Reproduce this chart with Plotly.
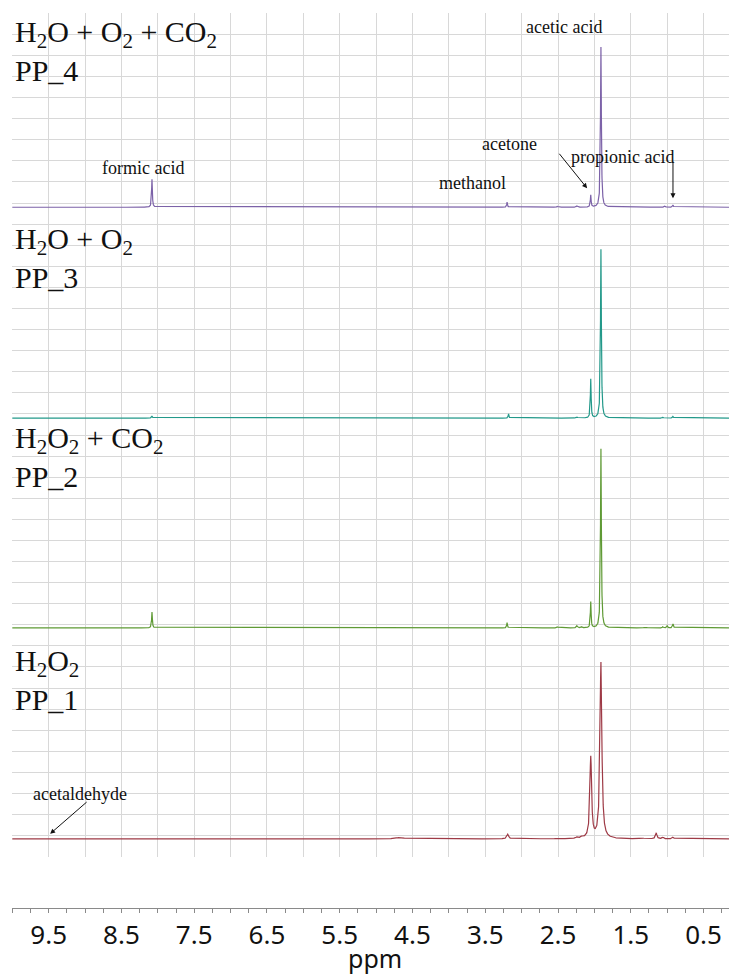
import numpy as np
import plotly.graph_objects as go

# ---------------- data ----------------
# chemical shift grid limits of the plot (ppm)
ppm_left, ppm_right = 10.0, 0.15

# tick labels on the ppm axis
tick_values = [9.5, 8.5, 7.5, 6.5, 5.5, 4.5, 3.5, 2.5, 1.5, 0.5]
tick_labels = ["9.5", "8.5", "7.5", "6.5", "5.5", "4.5", "3.5", "2.5", "1.5", "0.5"]

# sample names (bottom -> top)
samples = ["PP_1", "PP_2", "PP_3", "PP_4"]
conditions = ["H<sub>2</sub>O<sub>2</sub>",
              "H<sub>2</sub>O<sub>2</sub> + CO<sub>2</sub>",
              "H<sub>2</sub>O + O<sub>2</sub>",
              "H<sub>2</sub>O + O<sub>2</sub> + CO<sub>2</sub>"]
baselines = [0.85, 10.85, 20.8, 30.8]          # stacking offset (grid rows)
colors = ["#9e3a46", "#5f9a35", "#23998a", "#7c62a8"]

# peak lists: position (ppm), height (grid rows), half-width (ppm)
pp1_pos = [9.49, 4.67, 3.19, 2.51, 2.24, 2.17, 2.05, 1.91, 1.35, 1.15, 1.06, 0.92]
pp1_hgt = [0.03, 0.07, 0.22, 0.04, 0.06, 0.07, 3.84, 8.35, 0.03, 0.28, 0.07, 0.08]
pp1_wid = [0.02, 0.06, 0.015, 0.015, 0.015, 0.015, 0.014, 0.015, 0.04, 0.012, 0.012, 0.012]

pp2_pos = [8.08, 3.20, 2.51, 2.24, 2.18, 2.05, 1.91, 1.30, 1.06, 1.00, 0.92]
pp2_hgt = [0.75, 0.25, 0.05, 0.10, 0.05, 1.23, 8.5, 0.03, 0.06, 0.10, 0.19]
pp2_wid = [0.006, 0.006, 0.008, 0.01, 0.008, 0.006, 0.007, 0.02, 0.008, 0.008, 0.008]

pp3_pos = [8.08, 3.18, 2.51, 2.24, 2.05, 1.91, 1.06, 0.92]
pp3_hgt = [0.10, 0.20, 0.03, 0.05, 1.85, 8.0, 0.05, 0.08]
pp3_wid = [0.008, 0.006, 0.008, 0.01, 0.006, 0.007, 0.008, 0.008]

pp4_pos = [8.08, 3.20, 2.51, 2.24, 2.05, 1.91, 1.03, 0.92]
pp4_hgt = [1.33, 0.24, 0.04, 0.06, 0.57, 7.6, 0.07, 0.10]
pp4_wid = [0.006, 0.006, 0.008, 0.01, 0.006, 0.007, 0.008, 0.008]

peak_lists = [(pp1_pos, pp1_hgt, pp1_wid), (pp2_pos, pp2_hgt, pp2_wid),
              (pp3_pos, pp3_hgt, pp3_wid), (pp4_pos, pp4_hgt, pp4_wid)]

# ---------------- figure ----------------
W, H = 729, 976
x = np.arange(ppm_right, ppm_left + 0.0005, 0.001)

fig = go.Figure()
for (pos, hgt, wid), base, col, name in zip(peak_lists, baselines, colors, samples):
    y = np.full_like(x, base)
    for p, h, g in zip(pos, hgt, wid):
        y = y + h * g ** 2 / ((x - p) ** 2 + g ** 2)
    fig.add_trace(go.Scatter(x=x, y=y, mode="lines", name=name,
                             line=dict(color=col, width=1.2),
                             hoverinfo="skip", showlegend=False))

# invisible trace carrying the bottom ppm axis
fig.add_trace(go.Scatter(x=[ppm_left, ppm_right], y=[None, None], xaxis="x2", yaxis="y",
                         mode="markers", marker=dict(opacity=0), showlegend=False,
                         hoverinfo="skip"))

x_dom = [12 / W, 1.0]
grid_col = "#d8d8d8"

fig.update_layout(
    width=W, height=H,
    margin=dict(l=0, r=0, t=0, b=0),
    paper_bgcolor="white", plot_bgcolor="white",
    xaxis=dict(domain=x_dom, range=[ppm_left + 0.004, ppm_right], showgrid=True,
               gridcolor=grid_col, gridwidth=1.4, tick0=0, dtick=0.5,
               showticklabels=False, ticks="", zeroline=False, showline=False),
    yaxis=dict(domain=[(H - 857) / H, (H - 13) / H], range=[-0.01, 40.01],
               showgrid=True, gridcolor=grid_col, gridwidth=1.4, tick0=0, dtick=1,
               showticklabels=False, ticks="", zeroline=False, showline=False),
    xaxis2=dict(domain=x_dom, range=[ppm_left + 0.004, ppm_right], overlaying="x",
                anchor="free", position=(H - 908) / H, side="bottom",
                showgrid=False, zeroline=False, showline=True, linecolor="#8a8a8a",
                linewidth=1, ticks="outside", ticklen=4, tickcolor="#8a8a8a",
                tickvals=tick_values, ticktext=tick_labels,
                minor=dict(ticks="outside", ticklen=4, dtick=0.25, tick0=0,
                           tickcolor="#8a8a8a", showgrid=False),
                ticklabelstandoff=0,
                tickfont=dict(family="Noto Sans", size=26, color="#111111")),
)

serif = "Liberation Serif"
annotations = []
# condition / sample labels (pixel placement in paper coords)
label_tops = [642, 419, 220, 13]
for cond, samp, top in zip(conditions, samples, label_tops):
    annotations.append(dict(text=cond + "<br>" + samp, xref="paper", yref="paper",
                            x=13 / W, y=1 - top / H, xanchor="left", yanchor="top",
                            align="left", showarrow=False,
                            font=dict(family=serif, size=30, color="#111111")))

# compound labels (data coordinates)
peak_names = ["formic acid", "acetic acid", "acetone", "propionic acid", "methanol", "acetaldehyde"]
name_x = [8.20, 2.42, 3.17, 1.61, 3.68, 9.07]
name_y = [32.65, 39.34, 33.79, 33.18, 31.94, 2.99]
for t, xx, yy in zip(peak_names, name_x, name_y):
    annotations.append(dict(text=t, xref="x", yref="y", x=xx, y=yy, showarrow=False,
                            font=dict(family=serif, size=18, color="#111111")))

# arrows (head in data coords, tail offset in pixels)
arrow_x = [2.10, 0.92, 9.48]
arrow_y = [31.7, 31.23, 1.09]
arrow_ax = [-29, 0, 38]
arrow_ay = [-36, -38, -33]
for xx, yy, a, b in zip(arrow_x, arrow_y, arrow_ax, arrow_ay):
    annotations.append(dict(text="", xref="x", yref="y", x=xx, y=yy, ax=a, ay=b,
                            showarrow=True, arrowhead=2, arrowsize=1, arrowwidth=1,
                            arrowcolor="#111111"))

annotations.append(dict(text="ppm", xref="paper", yref="paper", x=375 / W, y=0,
                        xanchor="center", yanchor="bottom", showarrow=False,
                        borderpad=0,
                        font=dict(family="Noto Sans", size=25, color="#111111")))

fig.update_layout(annotations=annotations)
fig.write_html("out.html")
